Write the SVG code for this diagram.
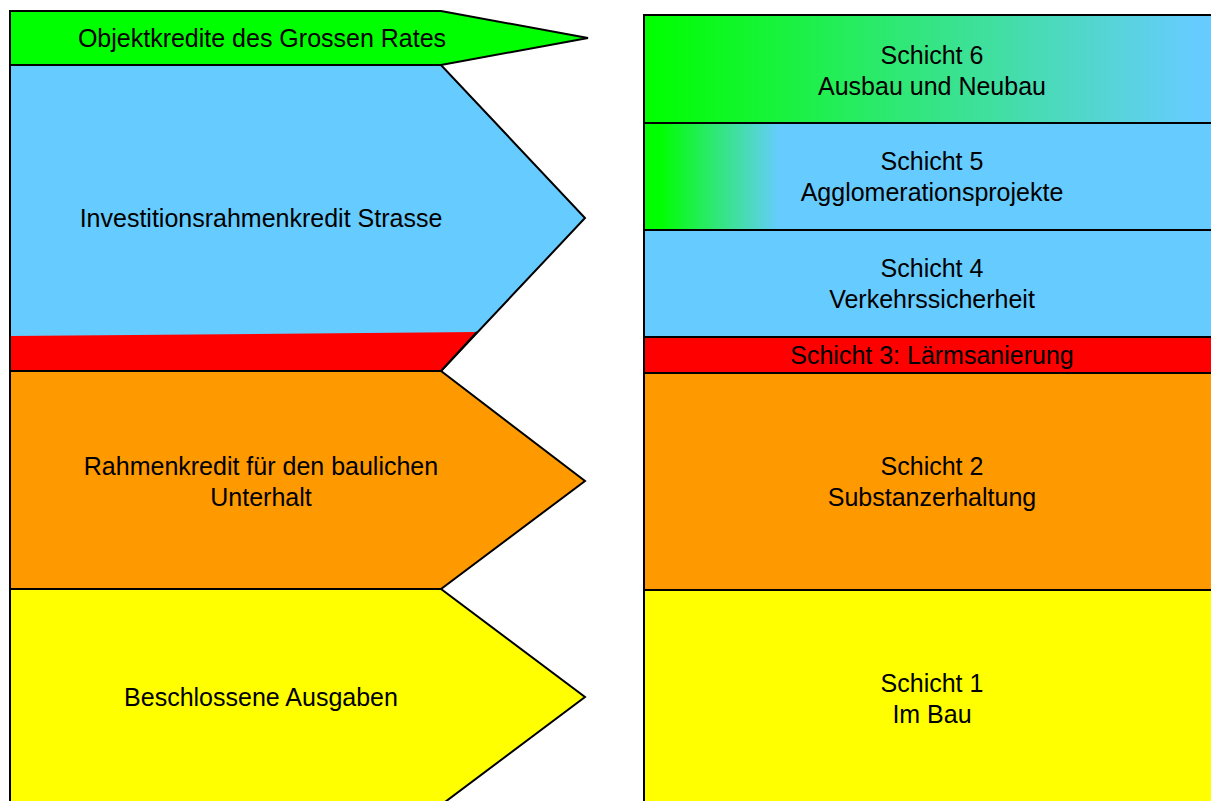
<svg xmlns="http://www.w3.org/2000/svg" width="1211" height="801" viewBox="0 0 1211 801">
<defs>
<style>
.s{stroke:#000;stroke-width:2;stroke-linejoin:miter}
.t{font-family:"Liberation Sans",Arial,sans-serif;font-size:25px;fill:#000;text-anchor:middle}
</style>
<linearGradient id="g6" gradientUnits="userSpaceOnUse" x1="650" y1="0" x2="1195" y2="0">
<stop offset="0" stop-color="#00ff00"/><stop offset="1" stop-color="#66ccff"/>
</linearGradient>
<linearGradient id="g5" gradientUnits="userSpaceOnUse" x1="660" y1="0" x2="780" y2="0">
<stop offset="0" stop-color="#00ff00"/><stop offset="1" stop-color="#66ccff"/>
</linearGradient>
</defs>
<rect width="1211" height="801" fill="#fff"/>
<g id="connectors"/>
<g id="left-yellow">
<polygon class="s" points="10,589 441,589 585,697 441,805 10,805" fill="#ffff00"/>
<text class="t" x="261" y="706">Beschlossene Ausgaben</text>
</g>
<g id="left-orange">
<polygon class="s" points="10,371 441,371 585,481 441,589 10,589" fill="#ff9900"/>
<text class="t" x="261" y="475">Rahmenkredit für den baulichen</text>
<text class="t" x="261" y="506">Unterhalt</text>
</g>
<g id="left-blue">
<polygon class="s" points="10,65 441,65 585,218 441,371 10,371" fill="#66ccff"/>
<text class="t" x="261" y="227">Investitionsrahmenkredit Strasse</text>
</g>
<g id="left-red">
<polygon points="11,336 477,332 441,370 11,370" fill="#ff0000"/>
<path class="s" fill="none" d="M477,332 L441,371"/>
</g>
<g id="left-green">
<polygon class="s" points="10,11 441,11 588,38 441,65 10,65" fill="#00ff00"/>
<text class="t" x="262" y="47">Objektkredite des Grossen Rates</text>
</g>
<g id="schicht6">
<rect class="s" x="644" y="15" width="580" height="108" fill="url(#g6)"/>
<text class="t" x="932" y="64">Schicht 6</text>
<text class="t" x="932" y="95">Ausbau und Neubau</text>
</g>
<g id="schicht5">
<rect class="s" x="644" y="123" width="580" height="107" fill="url(#g5)"/>
<text class="t" x="932" y="170">Schicht 5</text>
<text class="t" x="932" y="201">Agglomerationsprojekte</text>
</g>
<g id="schicht4">
<rect class="s" x="644" y="230" width="580" height="107" fill="#66ccff"/>
<text class="t" x="932" y="277">Schicht 4</text>
<text class="t" x="932" y="308">Verkehrssicherheit</text>
</g>
<g id="schicht3">
<rect class="s" x="644" y="337" width="580" height="36" fill="#ff0000"/>
<text class="t" x="932" y="364">Schicht 3: Lärmsanierung</text>
</g>
<g id="schicht2">
<rect class="s" x="644" y="373" width="580" height="217" fill="#ff9900"/>
<text class="t" x="932" y="475">Schicht 2</text>
<text class="t" x="932" y="506">Substanzerhaltung</text>
</g>
<g id="schicht1">
<rect class="s" x="644" y="590" width="580" height="220" fill="#ffff00"/>
<text class="t" x="932" y="692">Schicht 1</text>
<text class="t" x="932" y="723">Im Bau</text>
</g>
</svg>
